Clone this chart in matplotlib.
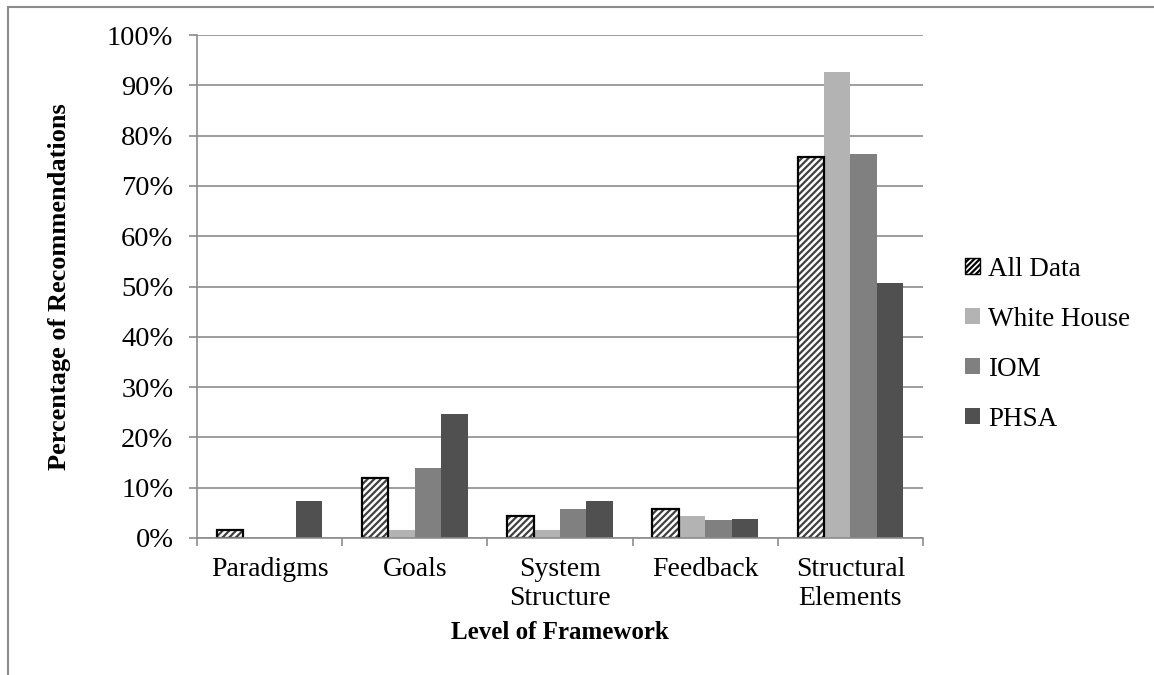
import matplotlib
matplotlib.use("Agg")
import matplotlib.pyplot as plt
from matplotlib.lines import Line2D
from matplotlib.patches import Patch
from matplotlib.ticker import PercentFormatter, FixedLocator
import numpy as np

categories = ["Paradigms", "Goals", "System\nStructure", "Feedback", "Structural\nElements"]
series_names = ["All Data", "White House", "IOM", "PHSA"]
all_data = [1.6, 12.0, 4.3, 5.7, 75.8]
white_house = [0.0, 1.5, 1.5, 4.3, 92.6]
iom = [0.0, 14.0, 5.8, 3.5, 76.4]
phsa = [7.3, 24.6, 7.3, 3.7, 50.6]

plt.rcParams["font.family"] = ["Liberation Serif", "DejaVu Serif"]
plt.rcParams["hatch.linewidth"] = 1.6

grid_gray = "#8c8c8c"
fills = [None, "#b3b3b3", "#808080", "#505050"]

fig = plt.figure(figsize=(11.54, 6.75), dpi=100)
ax = fig.add_axes([0.1707, 0.2030, 0.6291, 0.7451])

x = np.arange(len(categories))
width = 1 / 5.5
values = [all_data, white_house, iom, phsa]

for i, (name, vals) in enumerate(zip(series_names, values)):
    pos = x + (i - 1.5) * width
    if i == 0:
        ax.bar(pos, vals, width, color="white", edgecolor="#404040", hatch="/////",
               linewidth=0, zorder=3)
        ax.bar(pos, vals, width, fill=False, edgecolor="black", linewidth=1.6, zorder=4)
    else:
        ax.bar(pos, vals, width, color=fills[i], linewidth=0, zorder=3)

ax.set_xlim(-0.5, len(categories) - 0.5)
ax.set_ylim(0, 100)
ax.yaxis.set_major_locator(FixedLocator(np.arange(0, 101, 10)))
ax.yaxis.set_major_formatter(PercentFormatter(decimals=0))
ax.grid(axis="y", color=grid_gray, linewidth=1.2, zorder=0)
ax.set_axisbelow(True)

for side in ("top", "right"):
    ax.spines[side].set_visible(False)
for side in ("left", "bottom"):
    ax.spines[side].set_color(grid_gray)
    ax.spines[side].set_linewidth(1.2)
    ax.spines[side].set_zorder(5)

ax.set_xticks(x)
ax.set_xticklabels(categories, fontsize=20, linespacing=1.2)
ax.set_xticks(np.arange(-0.5, len(categories)), minor=True)
ax.tick_params(axis="x", which="major", length=0, pad=14)
ax.tick_params(axis="x", which="minor", length=6, width=1.2, color=grid_gray)
ax.tick_params(axis="y", length=6, width=1.2, color=grid_gray, pad=11, labelsize=20.5)

ax.set_xlabel("Level of Framework", fontsize=18, fontweight="bold", labelpad=7)
ax.set_ylabel("Percentage of Recommendations", fontsize=19, fontweight="bold", labelpad=26)

handles = [Patch(facecolor="white", edgecolor="black", hatch="//////", linewidth=1.0)]
handles += [Patch(facecolor=c, linewidth=0) for c in fills[1:]]
fig.legend(handles, series_names, loc="center left", bbox_to_anchor=(0.8362, 0.4900),
           frameon=False, fontsize=19.5, handlelength=0.55, handleheight=0.55,
           handletextpad=0.3, labelspacing=0.92, borderpad=0, borderaxespad=0)

# outer frame (top and left edges)
fig.add_artist(Line2D([7.5 / 1154, 1.0], [1 - 6.5 / 675, 1 - 6.5 / 675],
                      transform=fig.transFigure, color=grid_gray, linewidth=1.5))
fig.add_artist(Line2D([7.5 / 1154, 7.5 / 1154], [0.0, 1 - 6.5 / 675],
                      transform=fig.transFigure, color=grid_gray, linewidth=1.5))

fig.savefig("out.png", dpi=100, facecolor="white")
